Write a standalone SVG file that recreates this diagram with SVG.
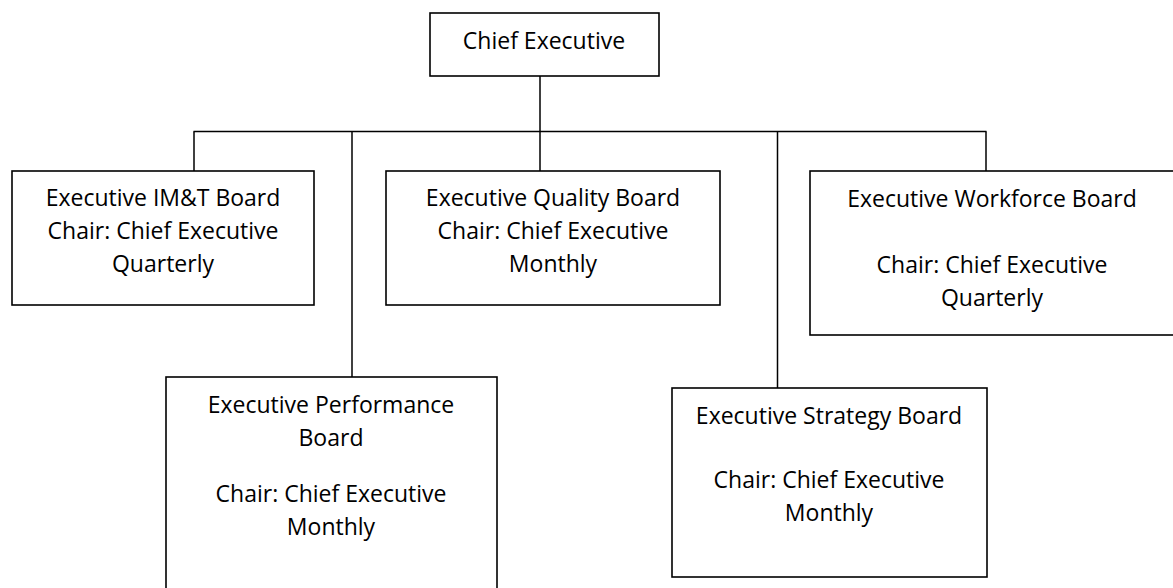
<svg xmlns="http://www.w3.org/2000/svg" width="1173" height="588" viewBox="0 0 1173 588">
<style>
.box{fill:#fff;stroke:#000;stroke-width:1.6}
.ln{stroke:#000;stroke-width:1.5;fill:none}
text{font-family:"Open Sans","Liberation Sans",sans-serif;font-size:23px;fill:#000;text-anchor:middle}
</style>
<rect width="1173" height="588" fill="#fff"/>
<g id="connectors">
<line class="ln" x1="540" y1="76" x2="540" y2="171"/>
<line class="ln" x1="193.5" y1="131.5" x2="986.5" y2="131.5"/>
<line class="ln" x1="194" y1="131.5" x2="194" y2="171"/>
<line class="ln" x1="352" y1="131.5" x2="352" y2="377"/>
<line class="ln" x1="777.5" y1="131.5" x2="777.5" y2="388"/>
<line class="ln" x1="986" y1="131.5" x2="986" y2="171"/>
</g>
<g id="chief">
<rect class="box" x="430" y="13" width="229" height="63"/>
<text x="544" y="49">Chief Executive</text>
</g>
<g id="imt">
<rect class="box" x="12" y="171" width="302" height="134"/>
<text x="163" y="206">Executive IM&amp;T Board</text>
<text x="163" y="239">Chair: Chief Executive</text>
<text x="163" y="272">Quarterly</text>
</g>
<g id="quality">
<rect class="box" x="386" y="171" width="334" height="134"/>
<text x="553" y="206">Executive Quality Board</text>
<text x="553" y="239">Chair: Chief Executive</text>
<text x="553" y="272">Monthly</text>
</g>
<g id="workforce">
<rect class="box" x="810" y="171" width="366" height="164"/>
<text x="992" y="207">Executive Workforce Board</text>
<text x="992" y="273">Chair: Chief Executive</text>
<text x="992" y="306">Quarterly</text>
</g>
<g id="performance">
<rect class="box" x="166" y="377" width="331" height="215"/>
<text x="331" y="413">Executive Performance</text>
<text x="331" y="446">Board</text>
<text x="331" y="502">Chair: Chief Executive</text>
<text x="331" y="535">Monthly</text>
</g>
<g id="strategy">
<rect class="box" x="672" y="388" width="315" height="189"/>
<text x="829" y="424">Executive Strategy Board</text>
<text x="829" y="488">Chair: Chief Executive</text>
<text x="829" y="521">Monthly</text>
</g>
</svg>
